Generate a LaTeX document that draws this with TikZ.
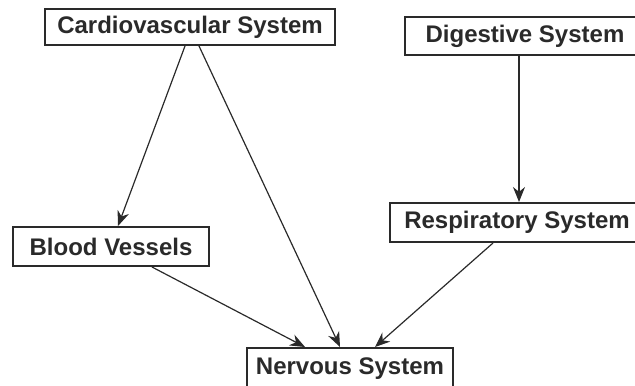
\documentclass[tikz,border=0pt]{standalone}
\usepackage{fontspec}
\setmainfont{Liberation Sans}
\usepackage{xcolor}
\usetikzlibrary{arrows.meta,calc}
\definecolor{inkgray}{HTML}{2A2A2A}

\begin{document}
\begin{tikzpicture}[
  x=0.5pt, y=-0.5pt,
  sys/.style={draw=inkgray, line width=1pt, rectangle, fill=white,
              text=inkgray, font=\fontsize{12}{14}\selectfont\bfseries,
              inner sep=0pt, text centered},
  link/.style={-{Stealth[length=7.5pt,width=6pt]}, line width=0.6pt, inkgray}
]
\useasboundingbox (0,0) rectangle (635,385);

% system boxes
\node[sys, minimum width=120pt, minimum height=19pt] (dg) at (525,36) {Digestive System};
\node[sys, minimum width=127pt, minimum height=19.5pt] (rs) at (517,222.5) {Respiratory System};
\node[sys, minimum width=145pt, minimum height=18pt] (cv) at (190,27) {Cardiovascular System};
\node[sys, minimum width=98pt, minimum height=19.5pt] (bv) at (111,246.5) {Blood Vessels};
\node[sys, minimum width=103pt, minimum height=21pt] (ns) at (350,369) {Nervous System};

% links
\draw[link] ($(cv.south)+(-5,0)$) -- ($(bv.north)+(7,0)$);
\draw[link] ($(cv.south)+(9,0)$) -- ($(ns.north)+(-10,0)$);
\draw[link] ($(dg.south)+(-6,0)$) -- ($(rs.north)+(2,0)$);
\draw[link] ($(bv.south)+(41,0)$) -- ($(ns.north)+(-45,0)$);
\draw[link] ($(rs.south)+(-24,0)$) -- ($(ns.north)+(25,0)$);
\end{tikzpicture}
\end{document}
